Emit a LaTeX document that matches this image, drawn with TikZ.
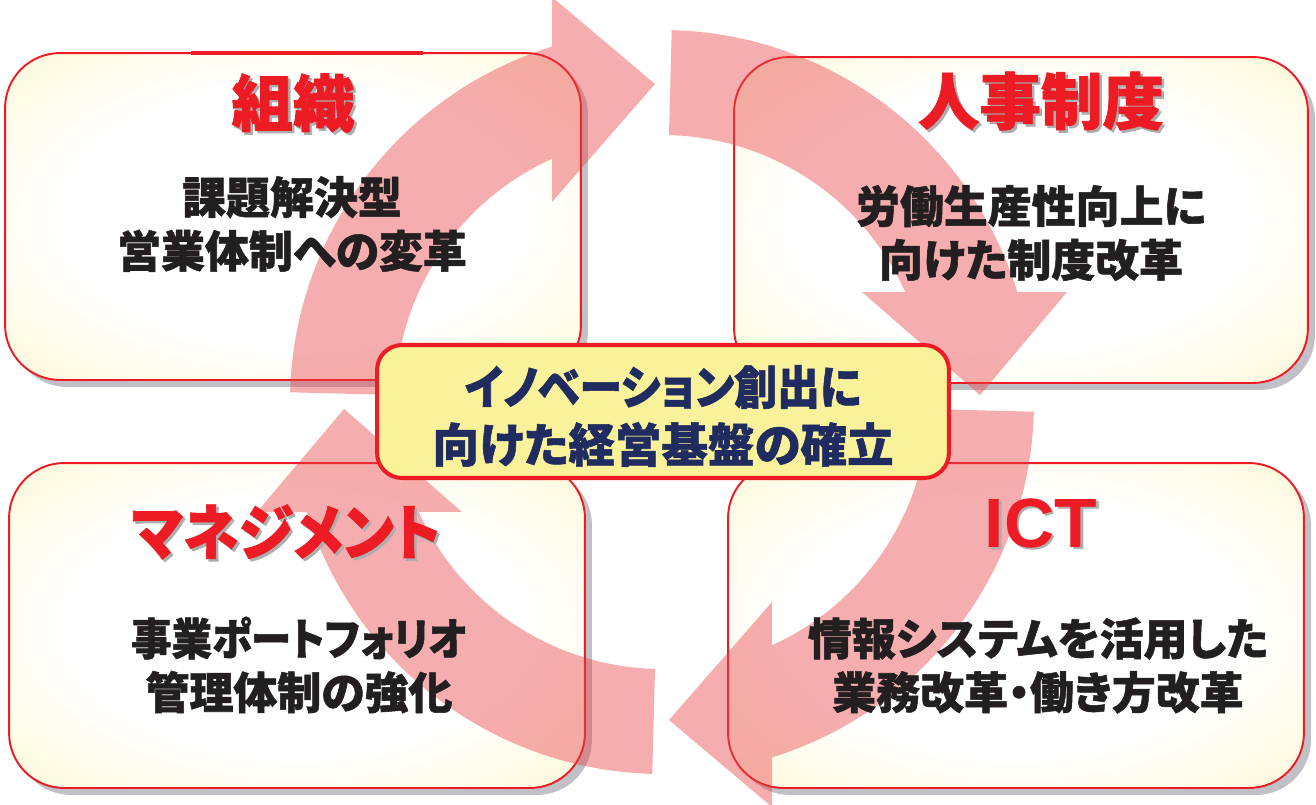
\documentclass[tikz,border=0pt]{standalone}
\usepackage{fontspec}
\newfontfamily\jp{Noto Sans CJK JP}[RawFeature=+palt, BoldFeatures={FakeBold=1.2}]
\newfontfamily\jpn{Noto Sans CJK JP}[RawFeature=+palt, FakeStretch=0.92, BoldFeatures={FakeBold=1.2}]
\newfontfamily\lat{Liberation Sans}
\usetikzlibrary{shadows}
\definecolor{tred}{RGB}{237,28,36}
\definecolor{byel}{RGB}{251,244,188}
\definecolor{arrowred}{RGB}{234,66,73}
\definecolor{bodyk}{RGB}{35,31,32}
\definecolor{navy}{RGB}{32,44,95}
\definecolor{cfill}{RGB}{250,242,155}
\definecolor{shgray}{RGB}{192,192,198}
\pgfdeclareradialshading{boxshade}{\pgfpoint{0bp}{0bp}}{color(0bp)=(white); color(20bp)=(white); color(47bp)=(byel); color(100bp)=(byel)}
\begin{document}
\begin{tikzpicture}[x=0.02cm, y=0.02cm,
  box/.style={draw=tred, line width=1.1pt, rounded corners=1.1cm, shade, shading=boxshade,
    drop shadow={shadow xshift=0.14cm, shadow yshift=-0.14cm, fill=shgray, opacity=1}, inner sep=0pt},
  cbox/.style={draw=tred, line width=2.3pt, rounded corners=0.5cm, fill=cfill, inner sep=0pt,
    minimum width=11.44cm, minimum height=2.66cm},
  arr/.style={fill=arrowred, fill opacity=0.43},
  ttl/.style={font=\jp\bfseries\fontsize{35}{40}\selectfont, text=tred, inner sep=0pt},
  ttlsh/.style={font=\jp\bfseries\fontsize{35}{40}\selectfont, text=black!32, inner sep=0pt},
  narrowttl/.style={font=\jpn\bfseries\fontsize{34.5}{40}\selectfont},
  ictf/.style={font=\lat\bfseries\fontsize{39.7}{44}\selectfont},
  body/.style={font=\jp\bfseries\fontsize{25}{30.6}\selectfont, text=bodyk, align=center, inner sep=0pt},
  ctxt/.style={font=\jp\bfseries\fontsize{26.5}{32.9}\selectfont, text=navy, align=center, inner sep=0pt}
]
\useasboundingbox (0,0) rectangle (1316,-805);
% boxes
\node[box, minimum width=11.52cm, minimum height=6.54cm] (tl) at (293,-216.5) {};
\node[box, minimum width=11.48cm, minimum height=6.52cm] (tr) at (1021,-220) {};
\node[box, minimum width=11.52cm, minimum height=6.50cm] (bl) at (297,-625.5) {};
\node[box, minimum width=11.52cm, minimum height=6.50cm] (br) at (1016,-625.5) {};
\draw[tred, line width=1.8pt] (191,-53) -- (423,-53);
% circular arrows
\foreach \rot in {90,0,-90,180}{
  \begin{scope}[shift={(662,-402)}, rotate=\rot]
    \fill[arr] (88.5:372) arc[start angle=88.5, end angle=17.2, radius=372]
      -- (405,110) -- (318,7) -- (200,110) -- (24.3:267)
      arc[start angle=24.3, end angle=88.5, radius=267] -- cycle;
  \end{scope}
}
% titles
\node[ttlsh] (t1s) at (295.5,-105.5) {組織};
\node[ttl] (t1) at (293,-103) {組織};
\node[ttlsh] (t2s) at (1043.5,-103.5) {人事制度};
\node[ttl] (t2) at (1041,-101) {人事制度};
\node[ttlsh, narrowttl] (t3s) at (288.5,-534.5) {マネジメント};
\node[ttl, narrowttl] (t3) at (286,-532) {マネジメント};
\node[ttlsh, ictf] (t4s) at (1043.5,-525.5) {ICT};
\node[ttl, ictf] (t4) at (1041,-523) {ICT};
% bodies
\node[body] (b1) at (292,-224) {課題解決型\\営業体制への変革};
\node[body] (b2) at (1031,-233) {労働生産性向上に\\向けた制度改革};
\node[body] (b3) at (299,-665) {{\jpn\bfseries 事業ポートフォリオ}\\管理体制の強化};
\node[body] (b4) at (1038,-665.5) {情報システムを活用した\\業務改革・働き方改革};
% center
\node[cbox] (c) at (663,-411.5) {};
\node[ctxt] (ct) at (663,-416) {{\jpn\bfseries イノベーション創出に}\\向けた経営基盤の確立};
\end{tikzpicture}
\end{document}
